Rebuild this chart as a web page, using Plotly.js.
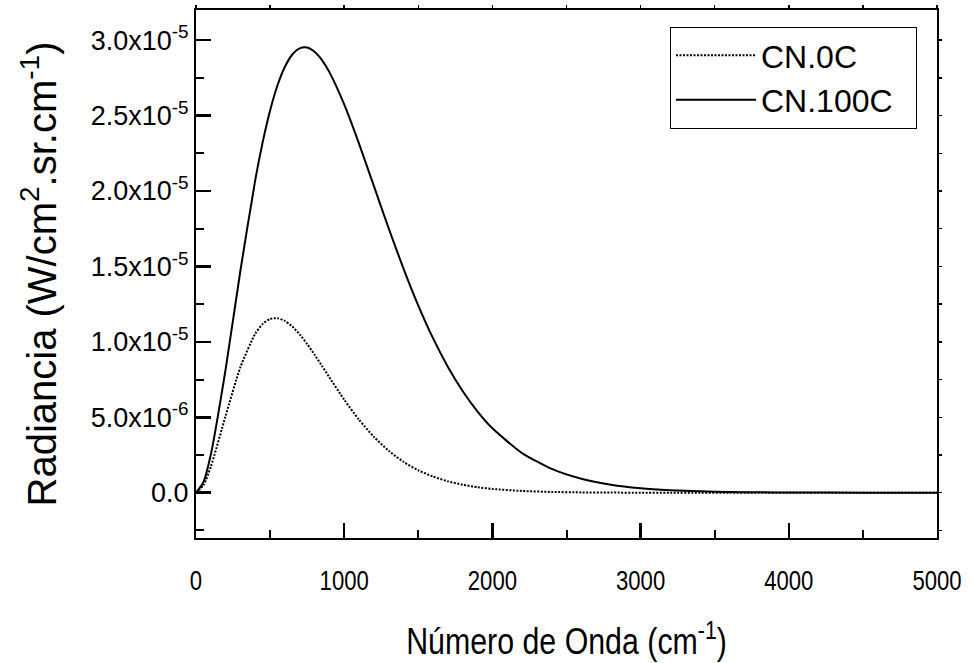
<!DOCTYPE html>
<html>
<head>
<meta charset="utf-8">
<script src="https://cdn.plot.ly/plotly-3.0.1.min.js"></script>
<style>html,body{margin:0;padding:0;background:#fff;}#chart{width:974px;height:663px;}</style>
</head>
<body>
<div id="chart"></div>
<script>
// Wavenumber (cm^-1)
var wavenumber = [0, 50, 100, 200, 300, 400, 450, 500, 550, 600, 650, 700, 750, 800, 850, 900, 1000, 1100, 1200, 1300, 1400, 1500, 1600, 1700, 1800, 1900, 2000, 2200, 2400, 2600, 2800, 3000, 3200, 3400, 3600, 3800, 4000, 4500, 5000];
// Radiance (W/cm^2.sr.cm^-1)
var radianceCN0C = [0, 0.494e-6, 1.72e-6, 5.10e-6, 8.34e-6, 10.55e-6, 11.19e-6, 11.52e-6, 11.57e-6, 11.39e-6, 11.02e-6, 10.49e-6, 9.86e-6, 9.15e-6, 8.41e-6, 7.65e-6, 6.17e-6, 4.84e-6, 3.71e-6, 2.78e-6, 2.05e-6, 1.49e-6, 1.07e-6, 0.756e-6, 0.530e-6, 0.368e-6, 0.253e-6, 0.118e-6, 0.053e-6, 0.024e-6, 0.010e-6, 0.0044e-6, 0.0018e-6, 0.0008e-6, 0.0003e-6, 0.0001e-6, 0.00005e-6, 0, 0];
var radianceCN100C = [0, 0.700e-6, 2.53e-6, 8.20e-6, 14.75e-6, 20.74e-6, 23.24e-6, 25.34e-6, 27.01e-6, 28.24e-6, 29.05e-6, 29.46e-6, 29.51e-6, 29.23e-6, 28.68e-6, 27.88e-6, 25.74e-6, 23.14e-6, 20.34e-6, 17.53e-6, 14.86e-6, 12.41e-6, 10.23e-6, 8.34e-6, 6.73e-6, 5.38e-6, 4.27e-6, 2.63e-6, 1.58e-6, 0.927e-6, 0.535e-6, 0.304e-6, 0.171e-6, 0.095e-6, 0.052e-6, 0.028e-6, 0.015e-6, 0.0035e-6, 0.0007e-6];
var seriesNames = ['CN.0C', 'CN.100C'];
var yTickVals = [0, 5e-6, 1e-5, 1.5e-5, 2e-5, 2.5e-5, 3e-5];
var yTickText = ['0.0', '5.0x10<sup>-6</sup>', '1.0x10<sup>-5</sup>', '1.5x10<sup>-5</sup>', '2.0x10<sup>-5</sup>', '2.5x10<sup>-5</sup>', '3.0x10<sup>-5</sup>'];
var xTickVals = [0, 1000, 2000, 3000, 4000, 5000];
var xTickText = ['0', '1000', '2000', '3000', '4000', '5000'];

var FONT = 'Liberation Sans, Arial, sans-serif';
var XR = [0, 5000], YR = [-3e-6, 3.2e-5];
var PAD = '\u00a0\u00a0';

var traces = [
  {x: wavenumber, y: radianceCN0C, name: seriesNames[0] + PAD, type: 'scatter', mode: 'lines',
   line: {color: '#000', width: 2, dash: '2px,1.5px', shape: 'spline', smoothing: 0.6},
   legendgroup: 'a'},
  {x: wavenumber, y: radianceCN100C, name: seriesNames[1] + PAD, type: 'scatter', mode: 'lines',
   line: {color: '#000', width: 2, shape: 'spline', smoothing: 0.6},
   legendgroup: 'b'},
  {x: [], y: [], xaxis: 'x2', yaxis: 'y2', showlegend: false, hoverinfo: 'skip', type: 'scatter'},
  {x: [], y: [], xaxis: 'x3', yaxis: 'y3', showlegend: false, hoverinfo: 'skip', type: 'scatter'},
  {x: [], y: [], xaxis: 'x4', yaxis: 'y4', showlegend: false, hoverinfo: 'skip', type: 'scatter'}
];

function helperAxis(extra) {
  var a = {showgrid: false, zeroline: false, showline: false, showticklabels: false,
           tickcolor: '#000', tickmode: 'linear', tick0: 0};
  for (var k in extra) a[k] = extra[k];
  return a;
}

var layout = {
  width: 974, height: 663,
  margin: {l: 196, r: 37, t: 10, b: 125, pad: 0},
  paper_bgcolor: '#fff', plot_bgcolor: '#fff',
  font: {family: FONT, color: '#000', size: 26},
  showlegend: true,
  legend: {
    x: 0.973, y: 0.968, xanchor: 'right', yanchor: 'top',
    bordercolor: '#000', borderwidth: 1, bgcolor: '#fff',
    font: {family: FONT, size: 32, color: '#000'},
    itemwidth: 80, traceorder: 'grouped', tracegroupgap: 0
  },
  xaxis: {
    range: XR, showgrid: false, zeroline: false,
    showline: true, linecolor: '#000', linewidth: 2, mirror: true,
    ticks: '', tickmode: 'array', tickvals: xTickVals, ticktext: xTickText,
    tickfont: {family: FONT, size: 27, color: '#000'},
    ticklabelstandoff: 18,
    title: {text: 'Número de Onda (cm<sup>-1</sup>)', font: {family: FONT, size: 37, color: '#000'}, standoff: 33}
  },
  yaxis: {
    range: YR, showgrid: false, zeroline: false,
    showline: true, linecolor: '#000', linewidth: 2, mirror: true,
    ticks: '', tickmode: 'array', tickvals: yTickVals, ticktext: yTickText,
    tickfont: {family: FONT, size: 27, color: '#000'},
    ticklabelstandoff: 0,
    title: {text: 'Radiancia (W/cm<sup>2</sup>.sr.cm<sup>-1</sup>)', font: {family: FONT, size: 40, color: '#000'}, standoff: 22}
  },
  // top / right mirrored short ticks
  xaxis2: helperAxis({overlaying: 'x', side: 'top', anchor: 'y', range: XR, ticks: 'outside', ticklen: 4, tickwidth: 1.5, dtick: 500}),
  yaxis2: helperAxis({overlaying: 'y', side: 'right', anchor: 'x', range: YR, ticks: 'outside', ticklen: 4, tickwidth: 1.5, dtick: 2.5e-6}),
  // minor inside ticks on bottom / left
  xaxis3: helperAxis({overlaying: 'x', side: 'bottom', anchor: 'y', range: XR, ticks: 'inside', ticklen: 8, tickwidth: 2, dtick: 500}),
  yaxis3: helperAxis({overlaying: 'y', side: 'left', anchor: 'x', range: YR, ticks: 'inside', ticklen: 8, tickwidth: 2, dtick: 2.5e-6}),
  // major inside ticks on bottom / left
  xaxis4: helperAxis({overlaying: 'x', side: 'bottom', anchor: 'y', range: XR, ticks: 'inside', ticklen: 15, tickwidth: 2.5, dtick: 1000}),
  yaxis4: helperAxis({overlaying: 'y', side: 'left', anchor: 'x', range: YR, ticks: 'inside', ticklen: 15, tickwidth: 2.5, dtick: 5e-6})
};

function condense(gd) {
  // the reference uses a narrow face for the x-axis texts
  var sx = 0.82;
  var labels = gd.querySelectorAll('.xaxislayer-above .xtick text');
  labels.forEach(function (t) {
    var tr = t.getAttribute('transform') || '';
    t.setAttribute('transform', tr + ' scale(' + sx + ',1)');
  });
  var title = gd.querySelector('.g-xtitle text');
  if (title) {
    var cx = parseFloat(title.getAttribute('x')) || 0;
    var tr0 = title.getAttribute('transform') || '';
    title.setAttribute('transform', tr0 + ' translate(' + cx + ',0) scale(' + sx + ',1) translate(' + (-cx) + ',0)');
  }
}

Plotly.newPlot('chart', traces, layout, {displayModeBar: false, staticPlot: true}).then(condense);
</script>
</body>
</html>
